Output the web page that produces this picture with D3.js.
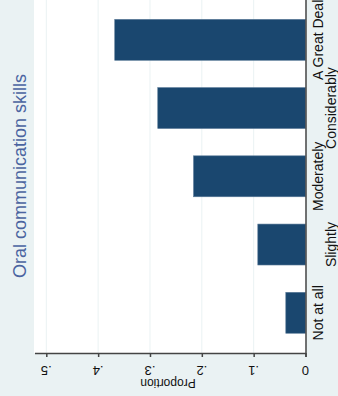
<!DOCTYPE html>
<html>
<head>
<meta charset="utf-8">
<script src="https://cdn.jsdelivr.net/npm/d3@7"></script>
<style>
  html, body { margin: 0; padding: 0; background: #eaf2f3; }
  svg { display: block; }
</style>
</head>
<body>
<div id="chart"></div>
<script>
// data
var categories = ["Not at all", "Slightly", "Moderately", "Considerably", "A Great Deal"];
var proportions = [0.038, 0.092, 0.216, 0.285, 0.368];
var tickValues = [0, 0.1, 0.2, 0.3, 0.4, 0.5];
var tickLabels = ["0", ".1", ".2", ".3", ".4", ".5"];
var chartTitle = "Oral communication skills";
var axisTitle = "Proportion";

var width = 338, height = 396;
var plot = {left: 34, right: 305.5, top: 0, bottom: 353};

var svg = d3.select("#chart")
  .append("svg")
  .attr("width", width)
  .attr("height", height)
  .style("font-family", "'Liberation Sans', Arial, sans-serif");

svg.append("rect")
  .attr("width", width).attr("height", height)
  .attr("fill", "#eaf2f3");

// plot region
svg.append("rect")
  .attr("x", plot.left).attr("y", plot.top)
  .attr("width", plot.right - plot.left)
  .attr("height", plot.bottom - plot.top)
  .attr("fill", "white");

// value scale runs right to left (0 on the right)
var x = d3.scaleLinear()
  .domain([0, 0.5])
  .range([plot.right, 46.3]);

// categories stacked top to bottom, largest level on top
var y = d3.scaleBand()
  .domain(categories.slice().reverse())
  .range([5.7, 346.9])
  .paddingInner(0.4)
  .paddingOuter(0.2);

// gridlines
svg.selectAll("line.grid")
  .data(tickValues.slice(1))
  .enter()
  .append("line")
  .attr("class", "grid")
  .attr("x1", d => x(d)).attr("x2", d => x(d))
  .attr("y1", plot.top).attr("y2", plot.bottom)
  .attr("stroke", "#eaf2f3")
  .attr("stroke-width", 1);

// bars
svg.selectAll("rect.bar")
  .data(categories)
  .enter()
  .append("rect")
  .attr("class", "bar")
  .attr("x", (d, i) => x(proportions[i]))
  .attr("y", d => y(d))
  .attr("width", (d, i) => x(0) - x(proportions[i]))
  .attr("height", y.bandwidth())
  .attr("fill", "#1a476f")
  .attr("stroke", "#5a7a98")
  .attr("stroke-width", 0.6);

// value axis (bottom)
var axis = svg.append("g")
  .attr("transform", "translate(0," + plot.bottom + ")")
  .call(d3.axisBottom(x)
    .tickValues(tickValues)
    .tickSize(4)
    .tickFormat(""));
axis.select(".domain")
  .attr("stroke", "#444")
  .attr("stroke-width", 1.5)
  .attr("d", "M" + (plot.left + 1) + ",0.5H" + (plot.right + 0.5));
axis.selectAll(".tick line")
  .attr("stroke", "#444")
  .attr("stroke-width", 1.5);

// tick labels, drawn upside down as in the picture
svg.selectAll("text.tick-label")
  .data(tickValues)
  .enter()
  .append("text")
  .attr("class", "tick-label")
  .attr("transform", d => "translate(" + x(d) + ",370) rotate(180)")
  .attr("text-anchor", "middle")
  .attr("dominant-baseline", "central")
  .attr("font-size", 13)
  .attr("fill", "#111")
  .text((d, i) => tickLabels[i]);

svg.append("text")
  .attr("transform", "translate(168,383) rotate(180)")
  .attr("text-anchor", "middle")
  .attr("dominant-baseline", "central")
  .attr("font-size", 12)
  .attr("fill", "#111")
  .text(axisTitle);

// category axis line (right)
svg.append("line")
  .attr("x1", plot.right + 0.5).attr("x2", plot.right + 0.5)
  .attr("y1", 0).attr("y2", plot.bottom + 4)
  .attr("stroke", "#444")
  .attr("stroke-width", 1.5);

// category labels, staggered in two rows
svg.selectAll("text.cat")
  .data(categories)
  .enter()
  .append("text")
  .attr("class", "cat")
  .attr("transform", (d, i) => "translate(" + (i % 2 ? 331 : 318) + "," + (y(d) + y.bandwidth() / 2) + ") rotate(-90)")
  .attr("text-anchor", "middle")
  .attr("dominant-baseline", "central")
  .attr("font-size", 14)
  .attr("fill", "#111")
  .text(d => d);

// title
svg.append("text")
  .attr("transform", "translate(20,176) rotate(-90)")
  .attr("text-anchor", "middle")
  .attr("dominant-baseline", "central")
  .attr("font-size", 18)
  .attr("fill", "#4a64a0")
  .text(chartTitle);
</script>
</body>
</html>
